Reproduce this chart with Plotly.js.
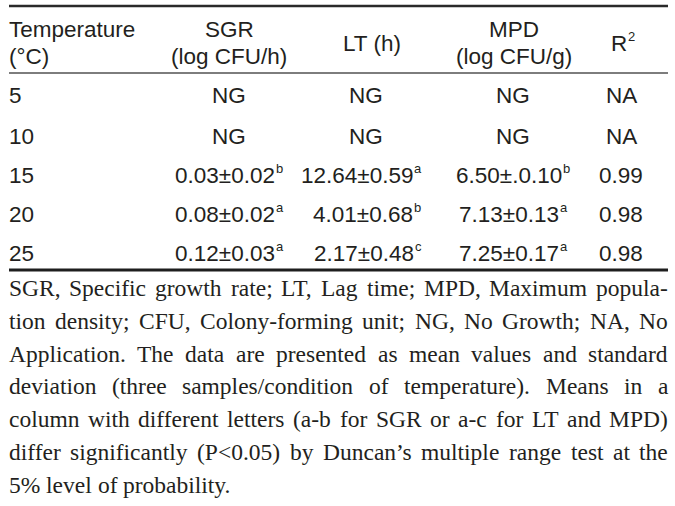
<!DOCTYPE html>
<html><head><meta charset="utf-8">
<script src="https://cdn.plot.ly/plotly-3.0.1.min.js"></script>
<style>html,body{margin:0;padding:0;background:#fff}</style>
</head><body><div id="chart" style="width:675px;height:506px"></div>
<script>
// ---- data ----
const headerTemp = ['Temperature', '(°C)'];
const headerSGR = ['SGR', '(log CFU/h)'];
const headerLT = ['LT (h)'];
const headerMPD = ['MPD', '(log CFU/g)'];
const headerR2 = ['R', '2'];

const temps = ['5', '10', '15', '20', '25'];
const sgr = ['NG', 'NG', '0.03±0.02', '0.08±0.02', '0.12±0.03'];
const sgrSig = ['', '', 'b', 'a', 'a'];
const lt = ['NG', 'NG', '12.64±0.59', '4.01±0.68', '2.17±0.48'];
const ltSig = ['', '', 'a', 'b', 'c'];
const mpd = ['NG', 'NG', '6.50±.0.10', '7.13±0.13', '7.25±0.17'];
const mpdSig = ['', '', 'b', 'a', 'a'];
const r2 = ['NA', 'NA', '0.99', '0.98', '0.98'];

const footnote = [
  'SGR, Specific growth rate; LT, Lag time; MPD, Maximum popula-',
  'tion density; CFU, Colony-forming unit; NG, No Growth; NA, No',
  'Application. The data are presented as mean values and standard',
  'deviation (three samples/condition of temperature). Means in a',
  'column with different letters (a-b for SGR or a-c for LT and MPD)',
  'differ significantly (P<0.05) by Duncan\u2019s multiple range test at the',
  '5% level of probability.'
];

// ---- layout constants ----
const W = 675, H = 506;
const SANS = '"Liberation Sans", Arial, sans-serif';
const SERIF = '"Liberation Serif", "Times New Roman", serif';
const INK = '#231f20';
const FS = 22.5;
const SUPFS = 13;
const SUPDY = 7;
const LEFT = 9, RIGHT = 668;
const rowY = [95, 136, 175, 214, 253];
const hdr1 = 29, hdr2 = 56, hdrMid = 43;
const colSGR = 229, colLTc = 366, colLTr = 421, colMPD = 513, colR2 = 621;

// text measurement in the DOM
const probe = document.createElement('span');
probe.style.cssText = 'position:absolute;visibility:hidden;white-space:pre;';
document.body.appendChild(probe);
function measure(s, family, size) {
  probe.style.fontFamily = family; probe.style.fontSize = size + 'px';
  probe.textContent = s; return probe.getBoundingClientRect().width;
}

const ann = [];
function cell(text, x, y, xanchor, font) {
  ann.push({
    text: text, x: x, y: y, xref: 'x', yref: 'y', xanchor: xanchor, yanchor: 'middle',
    showarrow: false, borderpad: 0, borderwidth: 0,
    font: font || {family: SANS, size: FS, color: INK}
  });
}
// main text plus a small superscript, aligned as a group
function cellSup(text, s, x, y, align) {
  if (!s) { cell(text, x, y, align); return; }
  const w = measure(text, SANS, FS);
  const ws = measure(s, SANS, SUPFS);
  const tot = w + ws + 0.5;
  const left = align === 'center' ? x - tot / 2 : (align === 'right' ? x - tot : x);
  cell(text, left, y, 'left');
  cell(s, left + w + 0.5, y - SUPDY, 'left', {family: SANS, size: SUPFS, color: INK});
}

// header
cell(headerTemp[0], LEFT, hdr1, 'left');
cell(headerTemp[1], LEFT, hdr2, 'left');
cell(headerSGR[0], colSGR, hdr1, 'center');
cell(headerSGR[1], colSGR, hdr2, 'center');
cell(headerLT[0], 372, hdrMid, 'center');
cell(headerMPD[0], 514, hdr1, 'center');
cell(headerMPD[1], 514, hdr2, 'center');
cellSup(headerR2[0], headerR2[1], 623, hdrMid, 'center');

// body
temps.forEach((t, i) => {
  cell(t, LEFT, rowY[i], 'left');
  cellSup(sgr[i], sgrSig[i], colSGR, rowY[i], 'center');
  if (ltSig[i]) cellSup(lt[i], ltSig[i], colLTr, rowY[i], 'right');
  else cell(lt[i], colLTc, rowY[i], 'center');
  cellSup(mpd[i], mpdSig[i], colMPD, rowY[i], 'center');
  cell(r2[i], colR2, rowY[i], 'center');
});

// footnote, justified
const fsF = 23.5;
const spaceW = measure('a a', SERIF, fsF) - measure('aa', SERIF, fsF);
const footY0 = 288, footDY = 32.8;
footnote.forEach((line, li) => {
  const words = line.split(' ');
  const widths = words.map(w => measure(w, SERIF, fsF));
  const total = widths.reduce((a, b) => a + b, 0);
  const last = li === footnote.length - 1;
  const gap = last ? spaceW : (RIGHT - LEFT - total) / (words.length - 1);
  let x = LEFT;
  words.forEach((w, wi) => {
    cell(w.replace(/</g, '&lt;'), x, footY0 + li * footDY, 'left', {family: SERIF, size: fsF, color: INK});
    x += widths[wi] + gap;
  });
});
document.body.removeChild(probe);

const shapes = [
  {type: 'line', xref: 'x', yref: 'y', x0: LEFT, x1: RIGHT, y0: 6, y1: 6, line: {color: '#2a2a2a', width: 2.5}},
  {type: 'line', xref: 'x', yref: 'y', x0: LEFT, x1: RIGHT, y0: 73, y1: 73, line: {color: '#7d7d7d', width: 2}},
  {type: 'line', xref: 'x', yref: 'y', x0: LEFT, x1: RIGHT, y0: 270, y1: 270, line: {color: '#1e1e1e', width: 3}}
];

Plotly.newPlot('chart', [{x: [], y: [], type: 'scatter', mode: 'markers', hoverinfo: 'skip', showlegend: false}], {
  width: W, height: H,
  margin: {l: 0, r: 0, t: 0, b: 0, pad: 0},
  paper_bgcolor: '#fff', plot_bgcolor: '#fff',
  xaxis: {range: [0, W], visible: false, fixedrange: true},
  yaxis: {range: [H, 0], visible: false, fixedrange: true},
  showlegend: false,
  annotations: ann,
  shapes: shapes
}, {staticPlot: true, displayModeBar: false});
</script></body></html>
